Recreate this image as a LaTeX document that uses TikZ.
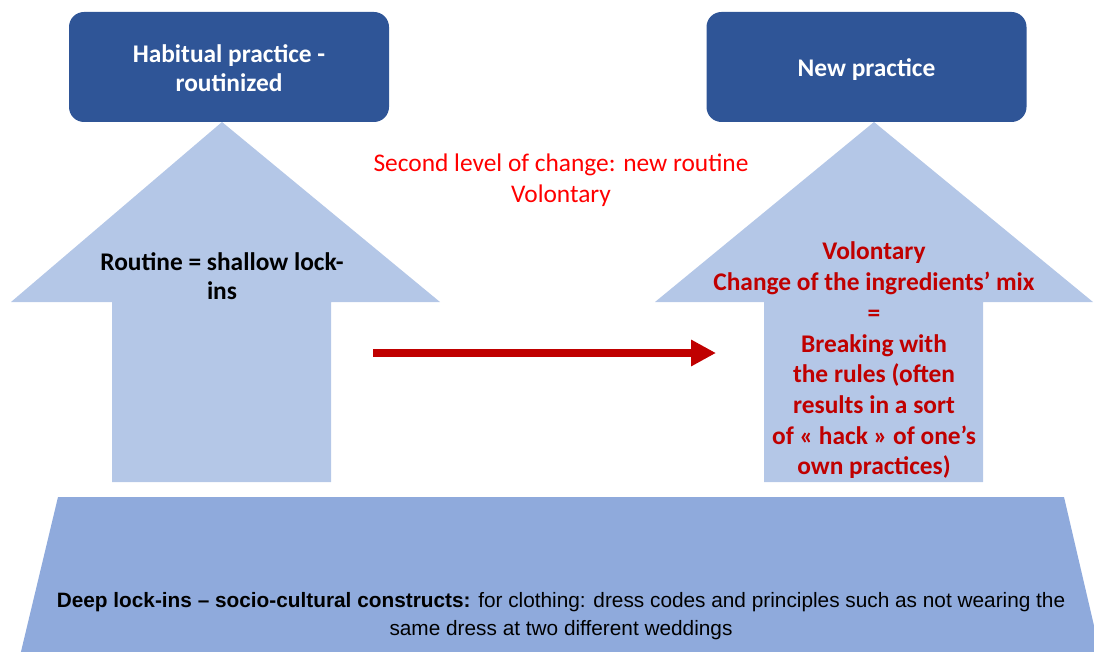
\documentclass[tikz,border=0pt]{standalone}
\usepackage{fontspec}
\setmainfont{Carlito}
\newfontfamily\arialfont{Liberation Sans}
\usetikzlibrary{arrows.meta}
\definecolor{boxblue}{HTML}{2F5597}
\definecolor{lightblue}{HTML}{B4C7E7}
\definecolor{baseblue}{HTML}{8FAADC}
\definecolor{darkred}{HTML}{C00000}
\tikzset{
  topbox/.style={draw=none, fill=boxblue, rounded corners=15pt, minimum width=320pt, minimum height=110pt, inner sep=0pt},
  boxtext/.style={text=white, font=\bfseries\fontsize{25.4}{29}\selectfont, align=center},
  uparrow/.style={fill=lightblue, draw=none},
  redtext/.style={text=red, font=\fontsize{25.4}{31}\selectfont, align=center},
  arrowtext/.style={font=\bfseries\fontsize{25.4}{29}\selectfont, align=center},
  changetext/.style={text=darkred, font=\bfseries\fontsize{25.4}{30.7}\selectfont, align=center},
  basetext/.style={font=\arialfont\fontsize{20.8}{28}\selectfont, align=center},
  redarrow/.style={draw=darkred, line width=8pt, -{Triangle[length=25pt,width=25pt]}}
}
\begin{document}
\begin{tikzpicture}[x=1pt,y=-1pt]
\useasboundingbox (0,0) rectangle (1094,652);
% base trapezoid
\fill[baseblue] (58,497) -- (1064,497) -- (1102,660) -- (19,660) -- cycle;
% up arrows
\fill[uparrow] (222,122) -- (440,302) -- (331,302) -- (331,482) -- (112,482) -- (112,302) -- (11,302) -- cycle;
\fill[uparrow] (874,122) -- (1093,302) -- (983,302) -- (983,482) -- (764,482) -- (764,302) -- (655,302) -- cycle;
% top boxes
\node[topbox] (habit) at (229,67) {};
\node[boxtext] (habittext) at (229,68) {Habitual practice -\\routinized};
\node[topbox] (new) at (866.5,67) {};
\node[boxtext] (newtext) at (866.5,70) {New practice};
% texts
\node[redtext] (second) at (561,180) {Second level of change: new routine\\Volontary};
\node[arrowtext] (routine) at (222,276.5) {Routine = shallow lock-\\ins};
\node[changetext] (change) at (874,360.5) {Volontary\\Change of the ingredients’ mix\\=\\Breaking with\\the rules (often\\results in a sort\\of « hack » of one’s\\own practices)};
\node[basetext] (deep) at (561,616) {\textbf{Deep lock-ins – socio-cultural constructs:} for clothing: dress codes and principles such as not wearing the\\same dress at two different weddings};
% red arrow
\coordinate (rs) at (373,353);
\coordinate (re) at (716,353);
\draw[redarrow] (rs) -- (re);
\end{tikzpicture}
\end{document}
